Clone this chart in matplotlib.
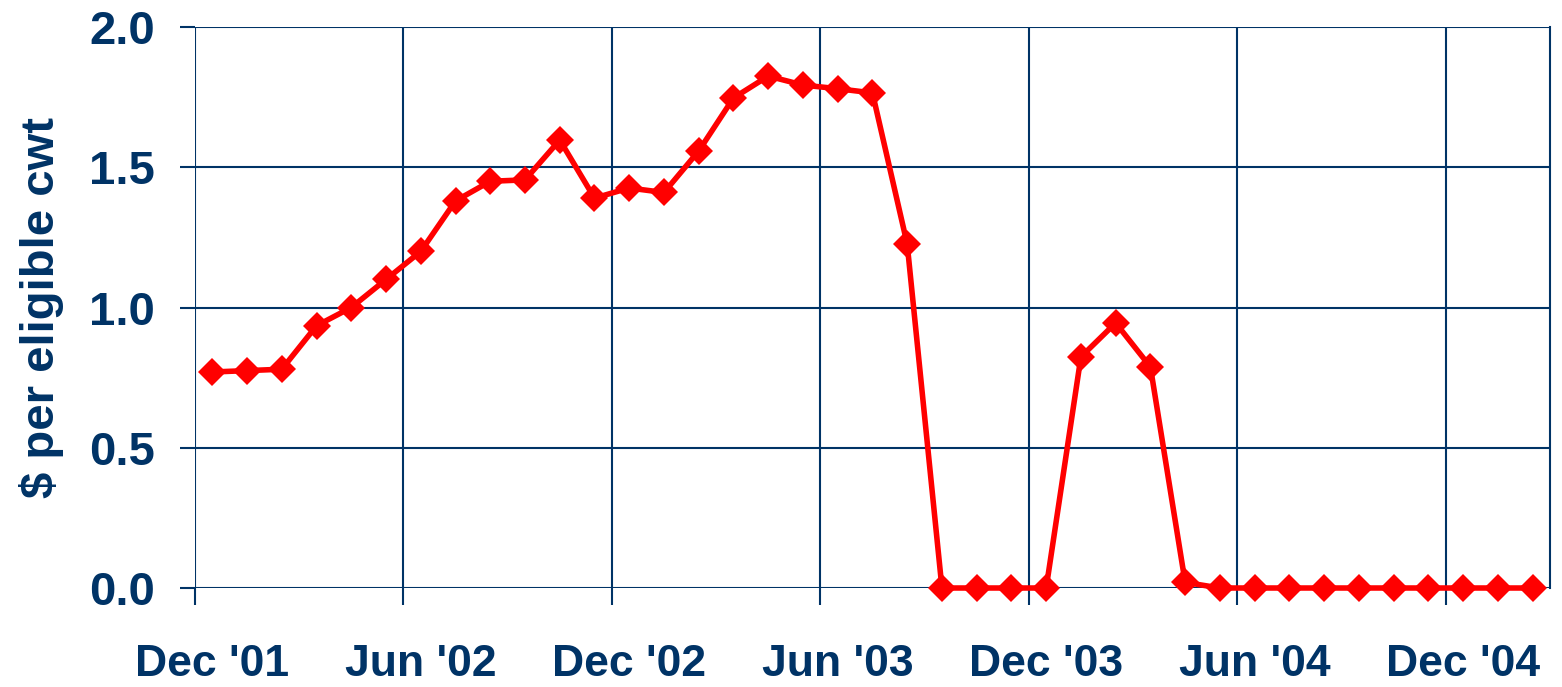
import matplotlib
matplotlib.use("Agg")
import matplotlib.pyplot as plt

# monthly values, Dec '01 .. Feb '05
months = ["Dec '01", "Jan '02", "Feb '02", "Mar '02", "Apr '02", "May '02",
          "Jun '02", "Jul '02", "Aug '02", "Sep '02", "Oct '02", "Nov '02",
          "Dec '02", "Jan '03", "Feb '03", "Mar '03", "Apr '03", "May '03",
          "Jun '03", "Jul '03", "Aug '03", "Sep '03", "Oct '03", "Nov '03",
          "Dec '03", "Jan '04", "Feb '04", "Mar '04", "Apr '04", "May '04",
          "Jun '04", "Jul '04", "Aug '04", "Sep '04", "Oct '04", "Nov '04",
          "Dec '04", "Jan '05", "Feb '05"]
payment = [0.77, 0.775, 0.78, 0.935, 1.0, 1.10,
           1.20, 1.38, 1.45, 1.455, 1.597, 1.39,
           1.426, 1.41, 1.558, 1.747, 1.825, 1.793,
           1.78, 1.765, 1.226, 0.0, 0.0, 0.0,
           0.0, 0.824, 0.945, 0.788, 0.02, 0.0,
           0.0, 0.0, 0.0, 0.0, 0.0, 0.0,
           0.0, 0.0, 0.0]
label_every = 6

navy = "#003366"
plt.rcParams['font.family'] = ['Liberation Sans', 'DejaVu Sans']

fig = plt.figure(figsize=(15.62, 6.87), dpi=100)
ax = fig.add_axes([0.1248, 0.1441, 0.9923 - 0.1248, 0.9607 - 0.1441])

x = [i + 0.5 for i in range(len(months))]
ax.plot(x, payment, color="#FF0000", lw=4, marker="D", markersize=14,
        markeredgewidth=0, zorder=5, clip_on=False)

ax.set_xlim(0, len(months))
ax.set_ylim(0, 2.0)
ax.set_yticks([0, 0.5, 1.0, 1.5, 2.0])
ax.set_yticklabels(["0.0", "0.5", "1.0", "1.5", "2.0"])

# gridlines sit between categories, labels on the category
ax.set_xticks(range(0, len(months), label_every))
ax.set_xticklabels([])
ax.set_xticks([i + 0.5 for i in range(0, len(months), label_every)], minor=True)
ax.set_xticklabels(months[::label_every], minor=True)

ax.grid(True, which="major", color=navy, lw=1.5)
ax.tick_params(axis="x", which="major", length=12, width=1.5, color=navy, direction="out")
ax.tick_params(axis="x", which="minor", length=0, pad=40, labelsize=32, labelcolor=navy)
ax.tick_params(axis="y", length=11, width=1.5, color=navy, direction="out",
               pad=18, labelsize=34, labelcolor=navy)
for lab in ax.get_xticklabels(minor=True) + ax.get_yticklabels():
    lab.set_fontweight("bold")

for side in ["left", "bottom", "top"]:
    ax.spines[side].set_visible(False)
ax.spines["right"].set_color(navy)
ax.spines["right"].set_linewidth(1.5)

ax.set_ylabel("$ per eligible cwt", fontsize=34, fontweight="bold", color=navy, labelpad=18)

fig.savefig("out.png", dpi=100)
